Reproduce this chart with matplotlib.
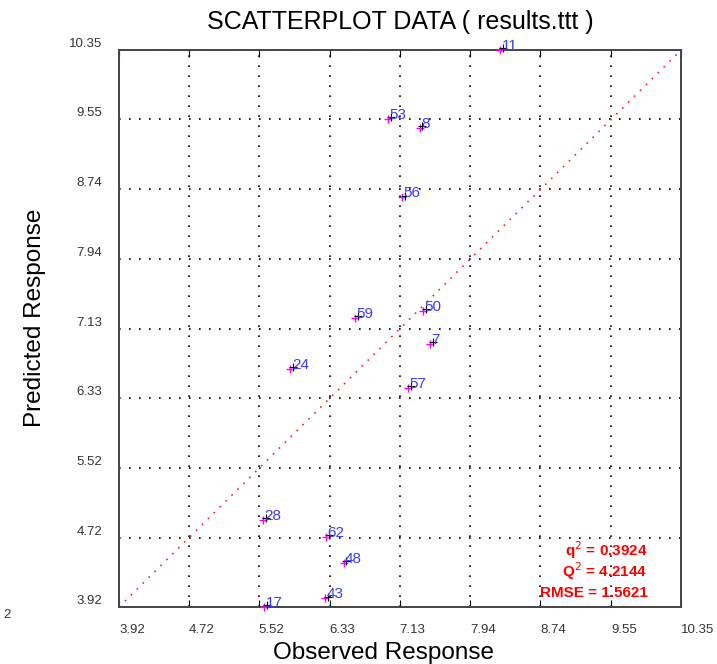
"""
Observed vs predicted response scatterplot with point ids and fit stats.
"""

import matplotlib.pyplot as plt

plt.rcParams['font.family'] = ['Liberation Sans', 'DejaVu Sans']

# data
ids = ['11', '53', '8', '56', '59', '50', '7', '24', '57', '28', '62', '48', '43', '17']
observed = [8.28, 7.00, 7.36, 7.16, 6.62, 7.40, 7.48, 5.88, 7.23, 5.57, 6.29, 6.49, 6.28, 5.58]
predicted = [10.35, 9.555, 9.45, 8.65, 7.26, 7.34, 6.96, 6.67, 6.45, 4.93, 4.73, 4.43, 4.02, 3.92]
ticks = [3.92, 4.72, 5.52, 6.33, 7.13, 7.94, 8.74, 9.55, 10.35]
tick_labels = ['3.92', '4.72', '5.52', '6.33', '7.13', '7.94', '8.74', '9.55', '10.35']
stats = ['q$^2$ = 0.3924', 'Q$^2$ = 4.2144', 'RMSE = 1.5621']


def main():
    fig = plt.figure(figsize=(7.17, 6.64), dpi=100)
    ax = fig.add_axes([0.166, 0.0858, 0.784, 0.8389])
    lo, hi = ticks[0], ticks[-1]

    ax.plot([lo, hi], [lo, hi], color='#ff2020', linestyle=(0, (1, 4)),
            linewidth=1.2, zorder=2)
    ax.scatter(observed, predicted, marker='+', s=40, color='#ff00ff',
               linewidths=1.0, zorder=3, clip_on=False)
    ax.scatter([x + 0.03 for x in observed], [y + 0.02 for y in predicted],
               marker='+', s=28, color='black', linewidths=0.8, zorder=3,
               clip_on=False)
    for name, x, y in zip(ids, observed, predicted):
        ax.annotate(name, (x, y), xytext=(1, 0), textcoords='offset points',
                    color='#3a3aff', fontsize=11, clip_on=False)

    ax.set_xlim(lo, hi)
    ax.set_ylim(lo, hi)
    ax.set_xticks(ticks)
    ax.set_yticks(ticks)
    ax.set_xticklabels(tick_labels, ha='left', fontsize=9.5, color='#333333')
    ax.set_yticklabels(tick_labels, va='bottom', fontsize=9.5, color='#333333')
    ax.tick_params(axis='x', direction='in', length=5, pad=12, top=True,
                   color='black')
    ax.tick_params(axis='y', direction='in', length=0, pad=12)
    ax.grid(True, color='black', linestyle=(0, (1, 5)), linewidth=1.2)
    for spine in ax.spines.values():
        spine.set_color('#444444')
        spine.set_linewidth(1.4)

    ax.set_title('SCATTERPLOT DATA ( results.ttt )', fontsize=18, pad=15)
    ax.set_xlabel('Observed Response', fontsize=17.5)
    ax.set_ylabel('Predicted Response', fontsize=17.5)
    ax.xaxis.set_label_coords(0.47, -0.062)
    ax.yaxis.set_label_coords(-0.13, 0.52)

    for i, s in enumerate(stats):
        ax.text(0.94, 0.102 - i * 0.038, s, transform=ax.transAxes,
                ha='right', va='center', color='#ff0000', fontsize=11,
                fontweight='bold')

    fig.text(0.004, 0.07, '2', fontsize=9.5, color='#333333')

    fig.savefig('out.png', dpi=100)


if __name__ == "__main__":
    main()
